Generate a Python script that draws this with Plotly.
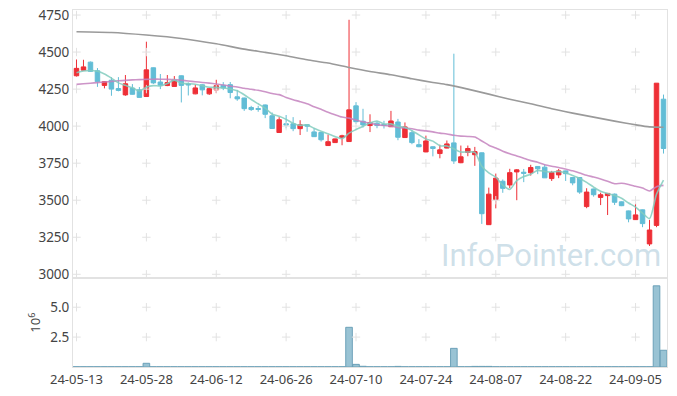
import plotly.graph_objects as go
from plotly.subplots import make_subplots
import pandas as pd

# ---------------- data ----------------
dates = [
    "24-05-13", "24-05-14", "24-05-16", "24-05-17", "24-05-20", "24-05-21", "24-05-22", "24-05-23",
    "24-05-24", "24-05-27", "24-05-28", "24-05-29", "24-05-30", "24-05-31",
    "24-06-03", "24-06-04", "24-06-05", "24-06-07", "24-06-10", "24-06-11", "24-06-12", "24-06-13",
    "24-06-14", "24-06-17", "24-06-18", "24-06-19", "24-06-20", "24-06-21", "24-06-24", "24-06-25",
    "24-06-26", "24-06-27", "24-06-28",
    "24-07-01", "24-07-02", "24-07-03", "24-07-04", "24-07-05", "24-07-08", "24-07-09", "24-07-10",
    "24-07-11", "24-07-12", "24-07-15", "24-07-16", "24-07-17", "24-07-18", "24-07-19", "24-07-22",
    "24-07-23", "24-07-24", "24-07-25", "24-07-26", "24-07-29", "24-07-30", "24-07-31",
    "24-08-01", "24-08-02", "24-08-05", "24-08-06", "24-08-07", "24-08-08", "24-08-09", "24-08-12",
    "24-08-13", "24-08-14", "24-08-16", "24-08-19", "24-08-20", "24-08-21", "24-08-22", "24-08-23",
    "24-08-26", "24-08-27", "24-08-28", "24-08-29", "24-08-30",
    "24-09-02", "24-09-03", "24-09-04", "24-09-05", "24-09-06", "24-09-09", "24-09-10", "24-09-11",
]

open_ = [4340, 4378, 4432, 4374, 4275, 4310, 4254, 4211, 4257, 4245, 4200, 4394, 4298, 4274,
         4268, 4340, 4285, 4218, 4279, 4218, 4245, 4276, 4280, 4198, 4190, 4126, 4119, 4143, 4070, 3957,
         4016, 4016, 3983,
         4010, 3961, 3957, 3869, 3889, 3923, 3896, 4137, 4033, 4004, 4020, 4011, 3996, 4028, 3923, 3956,
         3875, 3826, 3861, 3815, 3852, 3887, 3753,
         3822, 3807, 3820, 3335, 3504, 3628, 3603, 3691, 3689, 3685, 3728, 3723, 3646, 3671, 3698, 3653,
         3653, 3457, 3576, 3519, 3531,
         3541, 3489, 3428, 3369, 3435, 3205, 3330, 4182]
high = [4450, 4448, 4436, 4392, 4303, 4330, 4331, 4345, 4284, 4264, 4570, 4396, 4352, 4345,
        4338, 4342, 4295, 4280, 4282, 4258, 4313, 4297, 4298, 4245, 4192, 4137, 4137, 4146, 4092, 4061,
        4075, 4061, 4040,
        4013, 3986, 3960, 3943, 3916, 3942, 4718, 4162, 4117, 4080, 4034, 4036, 4103, 4049, 4025, 3973,
        3912, 3936, 3863, 3875, 3903, 4489, 3869,
        3869, 3860, 3822, 3585, 3680, 3640, 3712, 3710, 3711, 3739, 3730, 3741, 3698, 3711, 3700, 3655,
        3655, 3581, 3578, 3551, 3547,
        3545, 3492, 3430, 3480, 3437, 3367, 4290, 4213]
low = [4335, 4375, 4368, 4265, 4255, 4205, 4235, 4205, 4213, 4192, 4198, 4285, 4250, 4270,
       4265, 4160, 4207, 4215, 4208, 4211, 4223, 4243, 4188, 4171, 4103, 4103, 4097, 4054, 3982, 3955,
       3985, 3966, 3940,
       3962, 3927, 3896, 3866, 3887, 3871, 3894, 4015, 3990, 3960, 3986, 3984, 3994, 3905, 3921, 3878,
       3858, 3824, 3796, 3783, 3850, 3745, 3750,
       3797, 3732, 3340, 3333, 3445, 3550, 3582, 3500, 3622, 3666, 3676, 3650, 3630, 3649, 3630, 3601,
       3543, 3446, 3524, 3467, 3400,
       3468, 3460, 3351, 3367, 3318, 3191, 3318, 3815]
close = [4390, 4400, 4370, 4300, 4300, 4250, 4241, 4286, 4215, 4194, 4380, 4292, 4276, 4294,
         4310, 4275, 4279, 4258, 4245, 4253, 4273, 4258, 4227, 4184, 4118, 4112, 4113, 4080, 3984, 4043,
         4008, 3983, 4009,
         4000, 3929, 3908, 3895, 3914, 3935, 4110, 4030, 4008, 4024, 4004, 4005, 4035, 3925, 3995, 3889,
         3861, 3900, 3849, 3840, 3880, 3765, 3793,
         3849, 3828, 3409, 3541, 3649, 3580, 3686, 3705, 3682, 3721, 3712, 3651, 3687, 3698, 3679, 3617,
         3555, 3555, 3537, 3537, 3546,
         3486, 3463, 3374, 3401, 3342, 3299, 4290, 3849]

# volume in millions (10^6)
volume = [0.02, 0.02, 0.02, 0.02, 0.02, 0.02, 0.02, 0.02, 0.02, 0.02, 0.31, 0.02, 0.02, 0.02,
          0.02, 0.02, 0.02, 0.02, 0.02, 0.02, 0.02, 0.02, 0.02, 0.02, 0.02, 0.02, 0.02, 0.02, 0.02, 0.02,
          0.02, 0.02, 0.02,
          0.02, 0.02, 0.02, 0.02, 0.02, 0.02, 3.32, 0.22, 0.06, 0.02, 0.02, 0.02, 0.02, 0.05, 0.02, 0.02,
          0.02, 0.02, 0.02, 0.02, 0.02, 1.56, 0.02,
          0.02, 0.05, 0.05, 0.05, 0.02, 0.02, 0.02, 0.02, 0.02, 0.02, 0.02, 0.02, 0.02, 0.02, 0.02, 0.02,
          0.02, 0.02, 0.02, 0.02, 0.02,
          0.02, 0.02, 0.02, 0.02, 0.02, 0.02, 6.79, 1.40]

# moving-average values read from the picture where earlier closes are not shown
ma5_lead = [4360, 4372, 4376, 4370]
ma20_lead = [4282, 4286, 4290, 4294, 4298, 4302, 4306, 4309, 4312, 4314, 4316, 4317, 4317, 4316,
             4314, 4310, 4305, 4300, 4295]
# long moving average (120-day)
ma120_pos = [0, 5, 10, 15, 20, 24, 27, 30, 33, 36, 39, 42, 45, 48, 51, 53, 56, 59, 62, 65, 68,
             71, 74, 77, 80, 82, 84]
ma120_val = [4637, 4632, 4615, 4592, 4556, 4520, 4498, 4475, 4448, 4426, 4396, 4369, 4347, 4320,
             4295, 4280, 4250, 4216, 4182, 4151, 4117, 4088, 4061, 4034, 4009, 3995, 3993]

price_ticks = [3000, 3250, 3500, 3750, 4000, 4250, 4500, 4750]
vol_ticks = [2.5, 5.0]

# ---------------- derived ----------------
cs = pd.Series(close, dtype=float)
ma5 = cs.rolling(5).mean()
ma5.iloc[:len(ma5_lead)] = ma5_lead
ma20 = cs.rolling(20).mean()
ma20.iloc[:len(ma20_lead)] = ma20_lead
x_ticks = dates[::10]
ma120_x = [dates[i] for i in ma120_pos]

RED = "#ee2f36"
CYAN = "#62bdd6"
GRID = "#e2e2e2"
AXIS = "#e2e2e2"
FONT = "Noto Sans"

fig = make_subplots(rows=2, cols=1, shared_xaxes=True, vertical_spacing=0,
                    row_heights=[0.7515, 0.2485])

# grid drawn as small crosses at tick intersections
gx = [d for d in x_ticks for _ in price_ticks]
gy = [v for _ in x_ticks for v in price_ticks]
fig.add_trace(go.Scatter(x=gx, y=gy, mode="markers",
                         marker=dict(symbol="cross-thin", size=6, line=dict(color=GRID, width=1)),
                         showlegend=False, hoverinfo="skip"), row=1, col=1)

fig.add_trace(go.Candlestick(
    x=dates, open=open_, high=high, low=low, close=close,
    increasing=dict(line=dict(color=RED, width=1), fillcolor=RED),
    decreasing=dict(line=dict(color=CYAN, width=1), fillcolor=CYAN),
    whiskerwidth=0, showlegend=False, hoverinfo="skip"), row=1, col=1)

fig.add_trace(go.Scatter(x=ma120_x, y=ma120_val, mode="lines",
                         line=dict(color="#9a9a9a", width=1.6, shape="spline", smoothing=0.6),
                         showlegend=False, hoverinfo="skip"), row=1, col=1)
fig.add_trace(go.Scatter(x=dates, y=ma20, mode="lines",
                         line=dict(color="rgba(196,130,190,0.85)", width=1.6, shape="spline", smoothing=0.6),
                         showlegend=False, hoverinfo="skip"), row=1, col=1)
fig.add_trace(go.Scatter(x=dates, y=ma5, mode="lines",
                         line=dict(color="rgba(130,205,190,0.85)", width=1.6, shape="spline", smoothing=0.7),
                         showlegend=False, hoverinfo="skip"), row=1, col=1)

gx2 = [d for d in x_ticks for _ in vol_ticks]
gy2 = [v for _ in x_ticks for v in vol_ticks]
fig.add_trace(go.Scatter(x=gx2, y=gy2, mode="markers",
                         marker=dict(symbol="cross-thin", size=6, line=dict(color=GRID, width=1)),
                         showlegend=False, hoverinfo="skip"), row=2, col=1)
fig.add_trace(go.Bar(x=dates, y=volume,
                     marker=dict(color="rgba(135,185,205,0.85)", line=dict(color="rgba(100,155,180,0.9)", width=1)),
                     showlegend=False, hoverinfo="skip"), row=2, col=1)

fig.update_layout(
    width=677, height=396,
    margin=dict(l=73, r=10, t=10, b=29, autoexpand=False),
    paper_bgcolor="white", plot_bgcolor="white",
    font=dict(family=FONT, size=13.5, color="#444444"),
    bargap=0.05, boxgap=0.2, boxgroupgap=0.2,
    showlegend=False, hovermode=False,
)
fig.update_xaxes(type="category", categoryorder="array", categoryarray=dates,
                 range=[-0.5, len(dates) - 0.5], automargin=False,
                 showgrid=False, zeroline=False, showline=True, linecolor=AXIS, linewidth=1,
                 mirror=True, ticks="", tickvals=x_ticks, ticktext=x_ticks,
                 tickfont=dict(size=13), ticklabeloverflow="allow",
                 rangeslider=dict(visible=False))
fig.update_xaxes(showticklabels=False, row=1, col=1)
fig.update_xaxes(showticklabels=True, row=2, col=1)

fig.update_yaxes(range=[2973, 4784], tickvals=price_ticks, showgrid=False, zeroline=False,
                 automargin=False, showline=True, linecolor=AXIS, mirror=True, ticks="",
                 ticklabeloverflow="allow", row=1, col=1)
fig.update_yaxes(range=[0, 7.42], tickvals=vol_ticks, ticktext=["2.5", "5.0"], showgrid=False,
                 automargin=False, zeroline=False, showline=True, linecolor=AXIS, mirror=True, ticks="",
                 ticklabeloverflow="allow",
                 title=dict(text="10<sup>6</sup>", font=dict(size=13, color="#444444"), standoff=6),
                 row=2, col=1)

fig.add_annotation(text="InfoPointer.com", xref="paper", yref="paper", x=0.993, y=0.312,
                   xanchor="right", yanchor="middle", showarrow=False,
                   font=dict(family="Roboto", size=31, color="rgba(165,198,215,0.55)"))

# remove the default page margin so the figure sits at the window's top-left corner
fig.write_html("out.html", config={"displayModeBar": False},
               post_script="document.body.style.margin='0px';")
